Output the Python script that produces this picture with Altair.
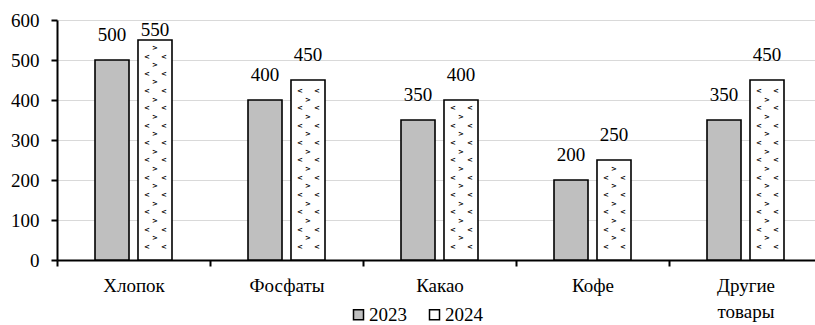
import altair as alt
import pandas as pd

# Export volumes by commodity, 2023 vs 2024
categories = ["Хлопок", "Фосфаты", "Какао", "Кофе", "Другие товары"]
years = ["2023", "2024"]
values_2023 = [500, 400, 350, 200, 350]
values_2024 = [550, 450, 400, 250, 450]
y_ticks = [0, 100, 200, 300, 400, 500, 600]

FONT = "Liberation Serif"
FS = 19

rows = []
for cat, a, b in zip(categories, values_2023, values_2024):
    rows.append({"cat": cat, "year": "2023", "value": a})
    rows.append({"cat": cat, "year": "2024", "value": b})
df = pd.DataFrame(rows)

# Texture for the 2024 bars: staggered rows of small chevrons inside each bar
ROW_STEP = 43.25
pattern = []
for cat, b in zip(categories, values_2024):
    k = 0
    while True:
        lo = 33 + ROW_STEP * k
        hi = lo + ROW_STEP / 2
        if lo > b - 12:
            break
        pattern.append({"cat": cat, "year": "2024", "y": lo, "glyph": "<"})
        if hi <= b - 12:
            pattern.append({"cat": cat, "year": "2024", "y": hi, "glyph": ">"})
        k += 1
pat = pd.DataFrame(pattern)

x_axis = alt.Axis(
    title=None,
    labelAngle=0,
    labelFont=FONT,
    labelFontSize=FS,
    labelColor="black",
    labelBaseline="top",
    labelPadding=10,
    labelLineHeight=26,
    labelExpr="split(datum.label, ' ')",
    tickBand="extent",
    tickSize=6,
    tickWidth=2,
    tickColor="black",
    domainColor="black",
    domainWidth=2,
    grid=False,
)
y_axis = alt.Axis(
    title=None,
    values=y_ticks,
    labelOverlap=False,
    labelFont=FONT,
    labelFontSize=FS,
    labelColor="black",
    labelPadding=12,
    tickSize=6,
    tickWidth=2,
    tickColor="black",
    domainColor="black",
    domainWidth=2,
    gridColor="#d9d9d9",
    gridWidth=1,
)
x_scale = alt.Scale(domain=categories, range=[0, 765], paddingInner=0, paddingOuter=0)
xo_scale = alt.Scale(domain=years, paddingInner=0.209, paddingOuter=0.884)
y_scale = alt.Scale(domain=[0, 600], nice=False)


def x_enc():
    return alt.X("cat:N", sort=categories, scale=x_scale, axis=x_axis)


def xo_enc():
    return alt.XOffset("year:N", sort=years, scale=xo_scale)


def y_enc(field):
    return alt.Y(field, type="quantitative", scale=y_scale, axis=y_axis)


bars = alt.Chart(df).mark_bar(stroke="black", strokeWidth=1.6).encode(
    x=x_enc(),
    xOffset=xo_enc(),
    y=y_enc("value"),
    fill=alt.Fill(
        "year:N",
        scale=alt.Scale(domain=years, range=["#bfbfbf", "white"]),
        legend=alt.Legend(
            title=None,
            orient="none",
            direction="horizontal",
            legendX=292,
            legendY=285,
            padding=0,
            symbolType="square",
            symbolSize=100,
            symbolStrokeColor="black",
            symbolStrokeWidth=1.5,
            labelFont=FONT,
            labelFontSize=FS,
            labelColor="black",
            labelOffset=1,
            columnPadding=18,
        ),
    ),
)


def chevrons(glyph, dx):
    return alt.Chart(pat).transform_filter(
        alt.datum.glyph == glyph
    ).mark_text(
        text=glyph, dx=dx, fontSize=7, fontWeight="bold", font="DejaVu Sans", color="black"
    ).encode(
        x=x_enc(),
        xOffset=xo_enc(),
        y=y_enc("y"),
    )


labels = alt.Chart(df).transform_calculate(
    ly="min(datum.value + 62.5, 575)"
).mark_text(
    font=FONT, fontSize=FS, color="black", baseline="middle"
).encode(
    x=x_enc(),
    xOffset=xo_enc(),
    y=y_enc("ly"),
    text=alt.Text("value:Q"),
)

chart = alt.layer(
    bars, chevrons("<", -8), chevrons(">", 0), chevrons("<", 9), labels
).properties(
    width=758,
    height=240,
    autosize=alt.AutoSizeParams(type="none"),
    padding={"left": 57, "top": 20, "right": 0, "bottom": 65},
).configure(
    font=FONT
).configure_view(stroke=None)

chart.save("out.html", embed_options={"renderer": "svg", "actions": False})
